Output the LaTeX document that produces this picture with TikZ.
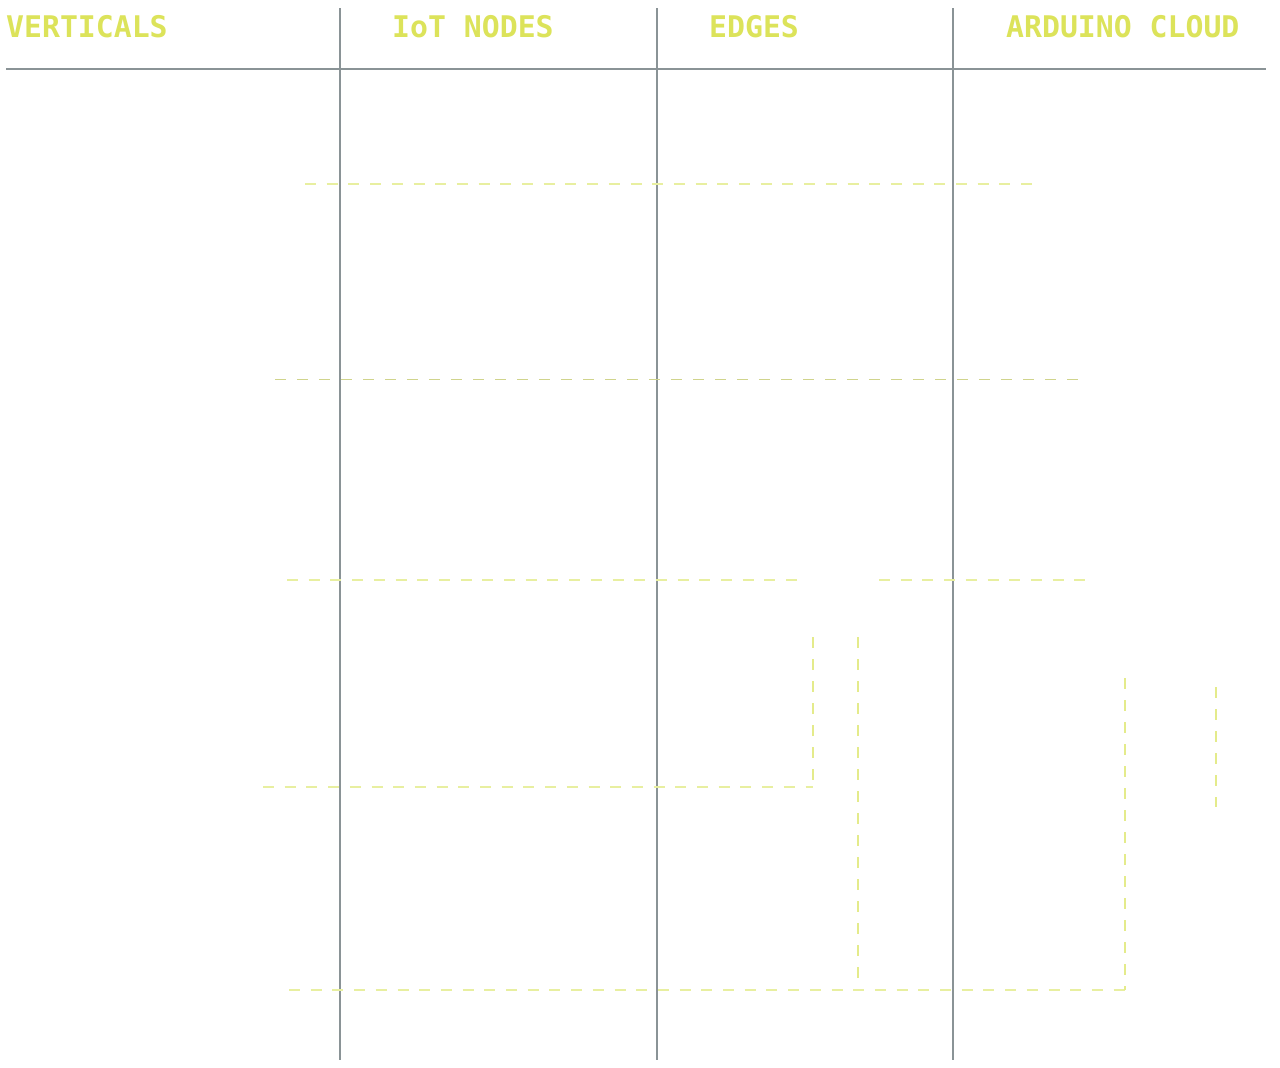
\documentclass[tikz,border=0pt]{standalone}
\usepackage{fontspec}
\newfontfamily\headfont{DejaVu Sans Mono}
\definecolor{headyellow}{RGB}{220,227,90}
\definecolor{gridgray}{RGB}{138,147,150}
\definecolor{paleyellow}{RGB}{232,239,160}
\definecolor{midyellow}{RGB}{208,212,140}
\begin{document}
\begin{tikzpicture}[x=1pt,y=-1pt,
  header/.style={font=\headfont\bfseries\fontsize{29.8}{30}\selectfont, text=headyellow, inner sep=0pt, anchor=base west},
  gridline/.style={draw=gridgray, line width=1.6pt},
  paledash/.style={draw=paleyellow, line width=1.8pt, dash pattern=on 11pt off 10.7pt},
  middash/.style={draw=midyellow, line width=1pt, dash pattern=on 11pt off 11pt},
  vdash/.style={draw=paleyellow!70!headyellow, line width=1.4pt, dash pattern=on 11pt off 11pt}]
\useasboundingbox (0,0) rectangle (1280,1068);
\fill[white] (0,0) rectangle (1280,1068);
% headers
\node[header] (hv) at (6,37) {VERTICALS};
\node[header] (hi) at (392,37) {IoT NODES};
\node[header] (he) at (709,37) {EDGES};
\node[header] (ha) at (1006,37) {ARDUINO CLOUD};
% grid
\coordinate (hl) at (6,69); \coordinate (hr) at (1266,69);
\coordinate (v1t) at (340,8); \coordinate (v1b) at (340,1060);
\coordinate (v2t) at (657,8); \coordinate (v2b) at (657,1060);
\coordinate (v3t) at (953,8); \coordinate (v3b) at (953,1060);
\draw[gridline] (hl) -- (hr);
\draw[gridline] (v1t) -- (v1b);
\draw[gridline] (v2t) -- (v2b);
\draw[gridline] (v3t) -- (v3b);
% dashed lines
\coordinate (a1) at (305,184); \coordinate (a2) at (1042,184);
\draw[paledash] (a1) -- (a2);
\coordinate (b1) at (275,379); \coordinate (b2) at (1080,379);
\draw[middash] (b1) -- (b2);
\coordinate (c1) at (287,580); \coordinate (c2) at (797,580);
\coordinate (c3) at (879,580); \coordinate (c4) at (1088,580);
\draw[paledash] (c1) -- (c2);
\draw[paledash] (c3) -- (c4);
\coordinate (d1) at (263,787); \coordinate (d2) at (813,787); \coordinate (d3) at (813,637);
\draw[paledash] (d1) -- (d2);
\draw[vdash] (d3) -- (d2);
\coordinate (e1) at (858,637); \coordinate (e2) at (858,990);
\draw[vdash] (e1) -- (e2);
\coordinate (f1) at (289,990); \coordinate (f2) at (1125,990); \coordinate (f3) at (1125,678);
\draw[paledash] (f1) -- (f2);
\draw[vdash] (f3) -- (f2);
\coordinate (g1) at (1216,687); \coordinate (g2) at (1216,807);
\draw[vdash] (g1) -- (g2);
\end{tikzpicture}
\end{document}
